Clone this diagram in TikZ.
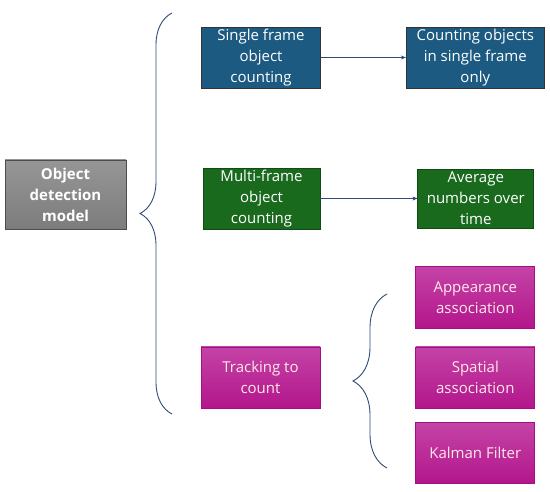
\documentclass[tikz,border=0pt]{standalone}
\usepackage{fontspec}
\setmainfont{Open Sans}
\definecolor{odblue}{HTML}{1C5A82}
\definecolor{odgreen}{HTML}{1A6A1E}
\definecolor{odmagtop}{HTML}{C443A6}
\definecolor{odmagbot}{HTML}{B3168C}
\definecolor{odgreytop}{HTML}{969696}
\definecolor{odgreybot}{HTML}{7C7C7C}
\definecolor{odline}{HTML}{2E4A78}
\usetikzlibrary{arrows.meta,positioning,decorations.pathreplacing}

\begin{document}
\begin{tikzpicture}[x=1pt,y=-1pt,
  node distance=18pt and 85pt,
  box/.style={draw=black!80,line width=0.8pt,align=center,inner sep=2pt,
    minimum width=119pt,minimum height=61pt,text=white,
    font=\fontsize{15}{21}\selectfont},
  bluebox/.style={box,fill=odblue},
  greenbox/.style={box,fill=odgreen,draw=odgreen!70!black},
  magbox/.style={box,draw=odmagbot!70!violet,top color=odmagtop,bottom color=odmagbot,
    text=pink!35},
  greybox/.style={box,draw=black!70,top color=odgreytop,bottom color=odgreybot,
    font=\fontsize{15}{21}\selectfont\bfseries},
  arr/.style={-{Stealth[length=5pt,width=4pt]},odline,line width=0.8pt},
  brc/.style={decorate,decoration={brace,amplitude=#1},odline,line width=0.9pt}]
\useasboundingbox (0,0) rectangle (550,492);
\node[greybox,minimum width=121pt,minimum height=69pt] (det) at (65.5,194.5) {Object\\detection\\model};
\node[bluebox] (single) at (261,57.5) {Single frame\\object\\counting};
\node[bluebox,right=of single,minimum width=138pt] (inframe) {Counting objects\\in single frame\\only};
\node[greenbox,minimum width=117pt,minimum height=59pt] (multi) at (261.5,198.5) {Multi-frame\\object\\counting};
\node[greenbox,right=97pt of multi,minimum width=116pt,minimum height=59pt] (avg) {Average\\numbers over\\time};
\node[magbox] (track) at (260.5,377.5) {Tracking to\\count};
\node[magbox,right=95pt of track] (spatial) {Spatial\\association};
\node[magbox,above=of spatial,minimum height=62pt] (appear) {Appearance\\association};
\node[magbox,below=14pt of spatial] (kalman) {Kalman Filter};
% arrows
\draw[arr] (single) -- (inframe);
\draw[arr] (multi) -- (avg);
% braces
\coordinate (bigtop) at (172,13);
\coordinate (bigbot) at (172,414);
\coordinate (smalltop) at (387,294);
\coordinate (smallbot) at (387,468);
\draw[brc=32pt] (bigbot) -- (bigtop);
\draw[brc=34pt] (smallbot) -- (smalltop);
\end{tikzpicture}
\end{document}
